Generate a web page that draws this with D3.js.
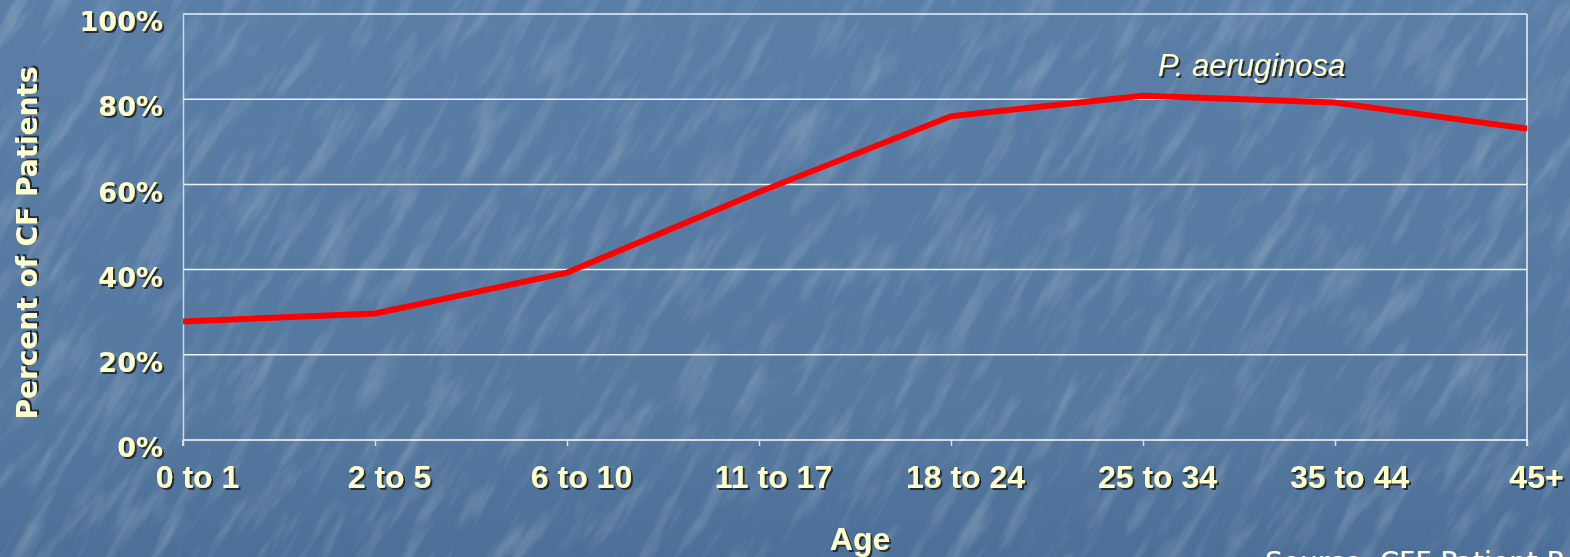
<!DOCTYPE html>
<html><head><meta charset="utf-8">
<script src="https://cdn.jsdelivr.net/npm/d3@7"></script>
<style>html,body{margin:0;padding:0;overflow:hidden;background:#557aa2;}</style>
</head><body>
<script>
const categories = ["0 to 1","2 to 5","6 to 10","11 to 17","18 to 24","25 to 34","35 to 44","45+"];
const values = [27.8, 29.7, 39.3, 58.2, 76.0, 80.8, 79.2, 73.1];
const yTicks = [0, 20, 40, 60, 80, 100];
const seriesLabel = "P. aeruginosa";

const W = 1570, H = 557;
const svg = d3.select("body").append("svg").attr("width", W).attr("height", H);
const defs = svg.append("defs");
const f = defs.append("filter").attr("id","tex").attr("filterUnits","userSpaceOnUse")
  .attr("x",-1100).attr("y",-1100).attr("width",2200).attr("height",2200);
f.append("feTurbulence").attr("type","fractalNoise").attr("baseFrequency","0.012 0.06").attr("numOctaves",4).attr("seed",7).attr("result","n");
f.append("feColorMatrix").attr("in","n").attr("type","matrix")
 .attr("values","0 0 0 0 1  0 0 0 0 1  0 0 0 0 1  0 0 0 2.0 -0.95");
const sh = defs.append("filter").attr("id","sh").attr("x","-10%").attr("y","-10%").attr("width","130%").attr("height","130%");
sh.append("feDropShadow").attr("dx",2).attr("dy",2).attr("stdDeviation",0.5).attr("flood-color","#1a2230").attr("flood-opacity",0.9);

const bg = defs.append("linearGradient").attr("id","bg").attr("x1",0).attr("y1",0).attr("x2",0).attr("y2",1);
bg.append("stop").attr("offset","0%").attr("stop-color","#5a7ea6");
bg.append("stop").attr("offset","75%").attr("stop-color","#55789f");
bg.append("stop").attr("offset","100%").attr("stop-color","#4c6f97");
svg.append("rect").attr("width",W).attr("height",H).attr("fill","url(#bg)");
svg.append("g").attr("transform","translate(785,278) rotate(-58)")
  .append("rect").attr("x",-1100).attr("y",-1100).attr("width",2200).attr("height",2200)
  .attr("fill","#fff").attr("filter","url(#tex)").attr("opacity",0.22);

const L = 183, R = 1527, T = 14, B = 440;
const x = d3.scalePoint().domain(categories).range([L, R]);
const y = d3.scaleLinear().domain([0, 100]).range([B, T]);

// gridlines
svg.append("g").selectAll("line").data(yTicks.filter(d => d > 0)).join("line")
  .attr("x1", L).attr("x2", R).attr("y1", d => y(d)).attr("y2", d => y(d))
  .attr("stroke", "#eef2f7").attr("stroke-width", 1.5);
svg.append("line").attr("x1",R).attr("x2",R).attr("y1",T).attr("y2",B).attr("stroke","#eef2f7").attr("stroke-width",1.5);

// x axis
const xa = svg.append("g").attr("transform", `translate(0,${B})`)
  .call(d3.axisBottom(x).tickSize(6).tickPadding(19));
xa.select(".domain").attr("stroke","#ffffff").attr("stroke-width",1.5).attr("d", `M${L},6V0H${R}V6`);
xa.selectAll(".tick line").attr("stroke","#d8e0ea").attr("stroke-width",1.5);
xa.selectAll("text").attr("fill","#ffffcc").attr("font-family","'Liberation Sans', Arial, sans-serif")
  .attr("font-weight","bold").attr("font-size",32).attr("filter","url(#sh)").attr("dx",14);
xa.selectAll(".tick").filter(d => d === "45+").select("text").attr("dx", 9);

// y axis
const ya = svg.append("g").attr("transform", `translate(${L},0)`)
  .call(d3.axisLeft(y).tickValues(yTicks).tickFormat(d => d + "%").tickSize(0).tickPadding(20));
ya.select(".domain").attr("stroke","#d0d8e2").attr("stroke-width",1.5);
ya.selectAll("text").attr("fill","#ffffcc").attr("font-family","'DejaVu Sans', Verdana, sans-serif")
  .attr("font-weight","bold").attr("font-size",27).attr("filter","url(#sh)").attr("dy","0.62em");

// line
const line = d3.line().x((d,i) => x(categories[i])).y(d => y(d));
svg.append("path").datum(values).attr("d", line).attr("fill","none")
  .attr("stroke","#ff0000").attr("stroke-width",6).attr("stroke-linejoin","round");

// series label
svg.append("text").attr("x", 1158).attr("y", 76).text(seriesLabel)
  .attr("fill","#ffffcc").attr("font-family","'Liberation Sans', Arial, sans-serif").attr("font-style","italic")
  .attr("font-size",31).attr("filter","url(#sh)");

// axis titles
svg.append("text").attr("transform","translate(37,243) rotate(-90)").attr("text-anchor","middle")
  .text("Percent of CF Patients").attr("fill","#ffffcc").attr("font-family","'DejaVu Sans', Verdana, sans-serif")
  .attr("font-weight","bold").attr("font-size",28).attr("filter","url(#sh)");
svg.append("text").attr("x", 860).attr("y", 550).attr("text-anchor","middle").text("Age")
  .attr("fill","#ffffcc").attr("font-family","'Liberation Sans', Arial, sans-serif")
  .attr("font-weight","bold").attr("font-size",32).attr("filter","url(#sh)");

// source (cut off at bottom edge, as in the reference)
svg.append("text").attr("x", 1265).attr("y", 572).text("Source: CFF Patient Registry")
  .attr("fill","#ffffff").attr("font-family","'DejaVu Sans', Verdana, sans-serif").attr("font-size",28);
</script>
</body></html>
